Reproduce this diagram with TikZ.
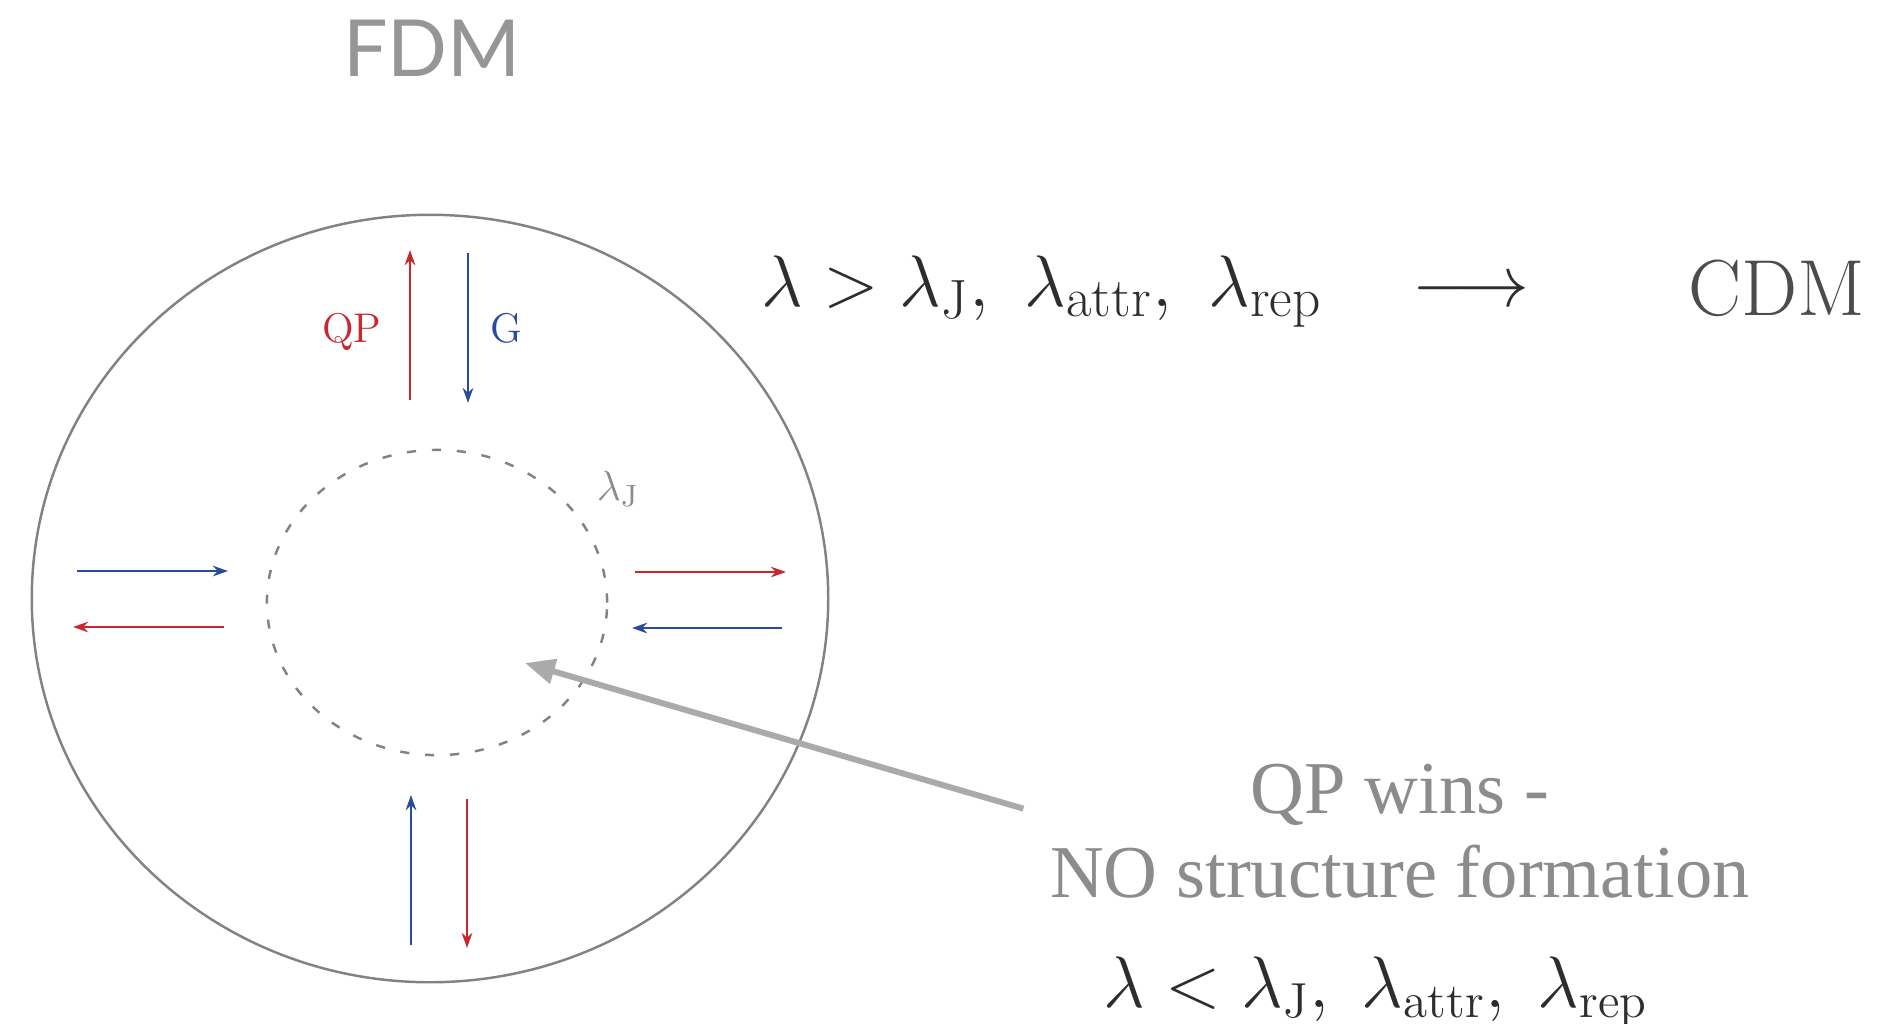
\documentclass[tikz,border=0pt]{standalone}
\usepackage{fontspec}
\newfontfamily\sansfdm{Lato}
\newfontfamily\seriftexte{Liberation Serif}
\usetikzlibrary{arrows.meta}

\definecolor{rougeqp}{RGB}{200,40,45}
\definecolor{bleug}{RGB}{40,75,160}
\definecolor{grisbord}{RGB}{130,130,130}
\definecolor{gristexte}{RGB}{140,140,140}
\definecolor{grisfdm}{RGB}{150,150,150}
\definecolor{grisfleche}{RGB}{170,170,170}
\definecolor{grisfonce}{RGB}{45,45,45}

\begin{document}
\begin{tikzpicture}[x=0.01cm, y=-0.01cm,
    force/.style={line width=0.7pt, -{Stealth[length=4.3pt,width=3pt]}},
    rouge/.style={force, draw=rougeqp},
    bleu/.style={force, draw=bleug},
    formule/.style={inner sep=0pt, anchor=base, text=grisfonce}]

    % Cadre de l'image
    \useasboundingbox (0,0) rectangle (1880,1023);

    % Titre
    \node[inner sep=0pt, anchor=base, text=grisfdm, font=\sansfdm\fontsize{22.4}{27}\selectfont] (fdm) at (432,76) {FDM};

    % Dessiner le halo (ellipse exterieure)
    \draw[grisbord, line width=0.7pt] (430,598.5) ellipse [x radius=3.98cm, y radius=3.835cm];

    % Dessiner la longueur de Jeans (cercle pointille)
    \draw[grisbord, line width=0.7pt, dash pattern=on 2.6pt off 4.5pt] (437,602.5) ellipse [x radius=1.70cm, y radius=1.525cm];
    \node[formule, text=gristexte, font=\fontsize{12.5}{15}\selectfont] (lj) at (618,500) {$\lambda_{\mathrm{J}}$};
    \coordinate (cible) at (525,663);

    % Fleches du haut
    \draw[rouge] (410,400) -- (410,250);
    \draw[bleu] (468,253) -- (468,403);
    \node[formule, text=rougeqp, font=\fontsize{11.8}{14}\selectfont] (qp) at (352,342) {QP};
    \node[formule, text=bleug, font=\fontsize{11.8}{14}\selectfont] (g) at (506,342) {G};

    % Fleches du bas
    \draw[bleu] (411,945) -- (411,795);
    \draw[rouge] (467,799) -- (467,948);

    % Fleches de gauche
    \draw[bleu] (77,571) -- (228,571);
    \draw[rouge] (224,627) -- (73,627);

    % Fleches de droite
    \draw[rouge] (635,572) -- (786,572);
    \draw[bleu] (782,628) -- (632,628);

    % Cas lambda > lambda_J
    \node[formule, font=\fontsize{22.5}{27}\selectfont] (sup) at (1042,306)
        {$\lambda > \lambda_{\mathrm{J}},\ \lambda_{\mathrm{attr}},\ \lambda_{\mathrm{rep}}$};
    \node[formule, font=\fontsize{20.5}{24}\selectfont] (vers) at (1471,306) {$\longrightarrow$};
    \node[formule, text=grisfonce!85, font=\fontsize{22.6}{27}\selectfont] (cdm) at (1777,315) {CDM};

    % Cas lambda < lambda_J
    \node[inner sep=0pt, anchor=north, align=center, text=gristexte,
          font=\seriftexte\fontsize{21.2}{23.9}\selectfont] (texte) at (1400,763)
        {QP wins -\\NO structure formation};
    \node[formule, font=\fontsize{20}{24}\selectfont] (inf) at (1376,1007)
        {$\lambda < \lambda_{\mathrm{J}},\; \lambda_{\mathrm{attr}},\; \lambda_{\mathrm{rep}}$};

    % Fleche grise vers le centre
    \draw[grisfleche, line width=1.7pt, -{Triangle[length=8.5pt,width=7pt]}]
        ([shift={(-7.4pt,6.3pt)}]texte.west) -- (cible);
\end{tikzpicture}
\end{document}
